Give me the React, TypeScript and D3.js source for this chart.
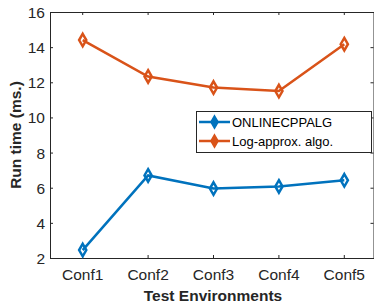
import React, { useEffect, useRef } from 'react';
import * as d3 from 'd3';

const categories = ['Conf1', 'Conf2', 'Conf3', 'Conf4', 'Conf5'];
const onlineValues = [2.45, 6.7, 5.95, 6.07, 6.42];
const logApproxValues = [14.4, 12.33, 11.7, 11.5, 14.17];
const yTicks = [2, 4, 6, 8, 10, 12, 14, 16];
const seriesNames = ['ONLINECPPALG', 'Log-approx. algo.'];
const seriesColors = ['#0072BD', '#D95319'];

const W = 374;
const H = 305;
const margin = { left: 50, right: -3, top: 12, bottom: 47 };
const boxRight = 373.5;

export default function App() {
    const svgRef = useRef<SVGSVGElement | null>(null);

    useEffect(() => {
        const svg = d3.select(svgRef.current);
        svg.selectAll('*').remove();

        const x0 = margin.left;
        const x1 = W - margin.right;
        const y0 = H - margin.bottom;
        const y1 = margin.top;

        const xScale = d3.scaleLinear().domain([0.5, categories.length + 0.5]).range([x0, x1]);
        const yScale = d3.scaleLinear().domain([2, 16]).range([y0, y1]);
        const font = 'Arial, "Liberation Sans", sans-serif';
        const axisColor = '#262626';

        svg.append('rect')
            .attr('x', x0 + 0.5).attr('y', y1 + 0.5)
            .attr('width', boxRight - x0).attr('height', y0 - y1)
            .attr('fill', 'white').attr('stroke', axisColor).attr('stroke-width', 1);

        // y ticks (inside, both sides)
        yTicks.forEach(t => {
            const y = yScale(t) + 0.5;
            svg.append('line').attr('x1', x0).attr('x2', x0 + 3).attr('y1', y).attr('y2', y).attr('stroke', axisColor);
            svg.append('line').attr('x1', boxRight - 3).attr('x2', boxRight).attr('y1', y).attr('y2', y).attr('stroke', axisColor);
            svg.append('text')
                .attr('x', x0 - 5).attr('y', y + 5.5)
                .attr('text-anchor', 'end')
                .attr('font-family', font).attr('font-size', 15.5)
                .attr('fill', axisColor)
                .text(t);
        });

        // x ticks
        categories.forEach((c, i) => {
            const x = xScale(i + 1);
            svg.append('line').attr('x1', x).attr('x2', x).attr('y1', y0).attr('y2', y0 - 3).attr('stroke', axisColor);
            svg.append('line').attr('x1', x).attr('x2', x).attr('y1', y1).attr('y2', y1 + 3).attr('stroke', axisColor);
            svg.append('text')
                .attr('x', x).attr('y', y0 + 22)
                .attr('text-anchor', 'middle')
                .attr('font-family', font).attr('font-size', 15.5)
                .attr('fill', axisColor)
                .text(c);
        });

        // axis labels
        svg.append('text')
            .attr('x', 213).attr('y', H - 4)
            .attr('text-anchor', 'middle')
            .attr('font-family', font).attr('font-size', 15.5).attr('font-weight', 'bold')
            .attr('fill', axisColor)
            .text('Test Environments');
        svg.append('text')
            .attr('transform', `translate(21, ${(y0 + y1) / 2}) rotate(-90)`)
            .attr('text-anchor', 'middle')
            .attr('font-family', font).attr('font-size', 15.5).attr('font-weight', 'bold')
            .attr('fill', axisColor)
            .text('Run time (ms.)');

        const diamond = d3.symbol().type(d3.symbolDiamond).size(45);
        const line = d3.line<number>()
            .x((_, i) => xScale(i + 1))
            .y(d => yScale(d));

        [onlineValues, logApproxValues].forEach((vals, s) => {
            svg.append('path')
                .datum(vals)
                .attr('fill', 'none')
                .attr('stroke', seriesColors[s])
                .attr('stroke-width', 2.5)
                .attr('d', line);
            svg.selectAll(`.m${s}`)
                .data(vals)
                .enter()
                .append('path')
                .attr('class', `m${s}`)
                .attr('transform', (d, i) => `translate(${xScale(i + 1)},${yScale(d)})`)
                .attr('d', diamond)
                .attr('fill', 'none')
                .attr('stroke', seriesColors[s])
                .attr('stroke-width', 2.5);
        });

        // legend
        const lg = svg.append('g');
        lg.append('rect')
            .attr('x', 196.5).attr('y', 111.5)
            .attr('width', 175).attr('height', 41)
            .attr('fill', 'white').attr('stroke', axisColor).attr('stroke-width', 1);
        seriesNames.forEach((name, s) => {
            const y = 122 + s * 19;
            lg.append('line')
                .attr('x1', 199).attr('x2', 230).attr('y1', y).attr('y2', y)
                .attr('stroke', seriesColors[s]).attr('stroke-width', 2.5);
            lg.append('path')
                .attr('transform', `translate(214.5,${y})`)
                .attr('d', diamond)
                .attr('fill', seriesColors[s])
                .attr('stroke', seriesColors[s]).attr('stroke-width', 1.5);
            lg.append('text')
                .attr('x', 232).attr('y', y + 5)
                .attr('font-family', font).attr('font-size', 13)
                .attr('fill', '#000')
                .text(name);
        });
    }, []);

    return (
        <svg ref={svgRef} width={W} height={H}
            style={{ position: 'absolute', left: 0, top: 0, background: 'white' }} />
    );
}
